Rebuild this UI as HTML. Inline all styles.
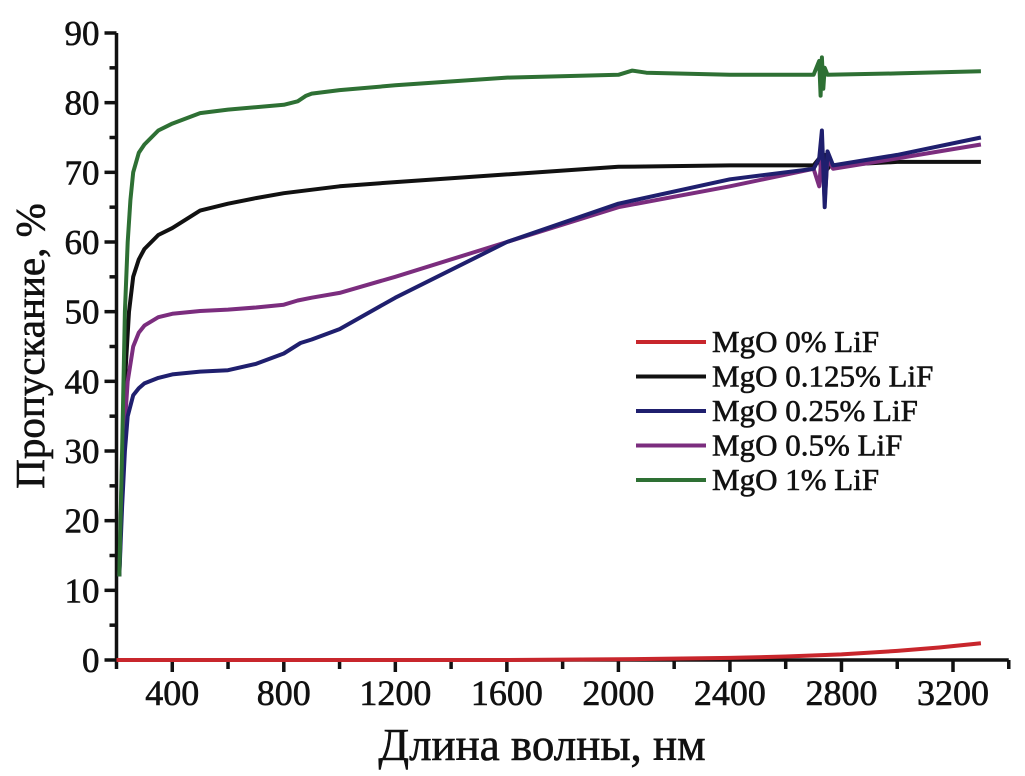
<!DOCTYPE html>
<html><head><meta charset="utf-8"><style>
html,body{margin:0;padding:0;background:#fff;}
svg{display:block;font-family:"Liberation Serif",serif;}
text{stroke:#111;stroke-width:0.6px;fill:#111;}
</style></head><body>
<svg id="chart" width="1025" height="776" viewBox="0 0 1025 776" xmlns="http://www.w3.org/2000/svg">
<g id="axes"></g>
<g id="series"></g>
<g id="legend"></g>
<text x="0" y="0" transform="translate(44,346) rotate(-90)" text-anchor="middle" font-size="41">Пропускание, %</text>
<text x="542" y="760" text-anchor="middle" font-size="45">Длина волны, нм</text>
</svg>
<script>
const xTicks = [400,800,1200,1600,2000,2400,2800,3200];
const yTicks = [0,10,20,30,40,50,60,70,80,90];
const seriesNames = ["MgO 0% LiF","MgO 0.125% LiF","MgO 0.25% LiF","MgO 0.5% LiF","MgO 1% LiF"];
const seriesColors = ["#c8262c","#111111","#1f1f6e","#7b2d7e","#2e7034"];
const redX = [200,600,1000,1600,2000,2400,2600,2800,3000,3150,3300];
const redY = [0,0,0,0,0.1,0.3,0.5,0.8,1.3,1.8,2.4];
const blackX = [210,220,230,245,260,280,300,350,400,500,600,700,800,1000,1200,1600,2000,2400,2700,2720,2730,2740,2750,2760,3000,3300];
const blackY = [12,28,40,50,55,57.5,59,61,62,64.5,65.5,66.3,67,68,68.6,69.7,70.8,71,71,72,70,72.5,70.5,71,71.5,71.5];
const navyX = [210,220,230,240,260,280,300,350,400,500,600,700,800,860,900,1000,1200,1600,2000,2400,2700,2720,2730,2740,2750,2770,3000,3300];
const navyY = [12,22,30,35,38,39,39.7,40.5,41,41.4,41.6,42.5,44,45.5,46,47.5,52,60,65.5,69,70.5,72,76,65,73,71,72.5,75];
const purpleX = [210,220,230,240,260,280,300,350,400,500,600,700,800,850,900,1000,1200,1600,2000,2400,2700,2720,2730,2740,2750,2770,3000,3300];
const purpleY = [12,25,34,40,45,47,48,49.2,49.7,50.1,50.3,50.6,51,51.6,52,52.7,55,60,65,68,70.5,68,73,66,72,70.5,72,74];
const greenX = [210,220,230,240,250,260,280,300,350,400,500,600,800,850,880,900,1000,1200,1600,2000,2050,2100,2400,2700,2720,2725,2730,2735,2740,2750,3000,3300];
const greenY = [12,30,50,60,66,70,72.8,74,76,77,78.5,79,79.7,80.2,81,81.3,81.8,82.5,83.6,84,84.6,84.3,84,84,86,81,86.5,82,85,84,84.2,84.5];
const X0=116.5, XS=(953-116.5)/3000, Y0=660, YS=(660-33)/90;
const xs = v => X0 + (v-200)*XS;
const ys = v => Y0 - v*YS;
const NS="http://www.w3.org/2000/svg";
function mk(tag, attrs, parent){const e=document.createElementNS(NS,tag);for(const k in attrs)e.setAttribute(k,attrs[k]);parent.appendChild(e);return e;}
const axes=document.getElementById('axes');
let e;
e=mk('line',{x1:X0,y1:Y0,x2:xs(3400),y2:Y0,stroke:'#111','stroke-width':3.5},axes);


e=mk('line',{x1:X0,y1:Y0+1.5,x2:X0,y2:ys(90),stroke:'#111','stroke-width':3.5},axes);


for(let v=200; v<=3400; v+=200){
  const major = xTicks.includes(v);
  e=mk('line',{x1:xs(v),y1:Y0,x2:xs(v),y2:Y0+(major?12:9),stroke:'#111','stroke-width':3.5},axes);
  
  
}
xTicks.forEach(v=>{
  e=mk('text',{x:xs(v),y:Y0+45,'text-anchor':'middle','font-size':36},axes);
  e.textContent=v;
  
  
});
for(let v=0; v<=90; v+=5){
  const major = yTicks.includes(v);
  e=mk('line',{x1:X0,y1:ys(v),x2:X0-(major?12:7),y2:ys(v),stroke:'#111','stroke-width':3.5},axes);
  
  
}
yTicks.forEach(v=>{
  e=mk('text',{x:X0-17,y:ys(v)+12,'text-anchor':'end','font-size':35},axes);
  e.textContent=v;
  
  
});
const sg=document.getElementById('series');
const allX=[redX,blackX,navyX,purpleX,greenX], allY=[redY,blackY,navyY,purpleY,greenY];
const order=[0,1,3,2,4];
order.forEach(i=>{
  const d=allX[i].map((x,j)=>(j?'L':'M')+xs(x).toFixed(1)+','+ys(allY[i][j]).toFixed(1)).join(' ');
  e=mk('path',{d:d,fill:'none',stroke:seriesColors[i],'stroke-width':4,'stroke-linejoin':'round'},sg);
  
  
});
const lg=document.getElementById('legend');
seriesNames.forEach((n,i)=>{
  const y=342+i*34.5;
  e=mk('line',{x1:636,y1:y,x2:706,y2:y,stroke:seriesColors[i],'stroke-width':4},lg);
  
  
  e=mk('text',{x:712,y:y+10,'font-size':31},lg);
  e.textContent=n;
  
  
});
</script>
</body></html>
